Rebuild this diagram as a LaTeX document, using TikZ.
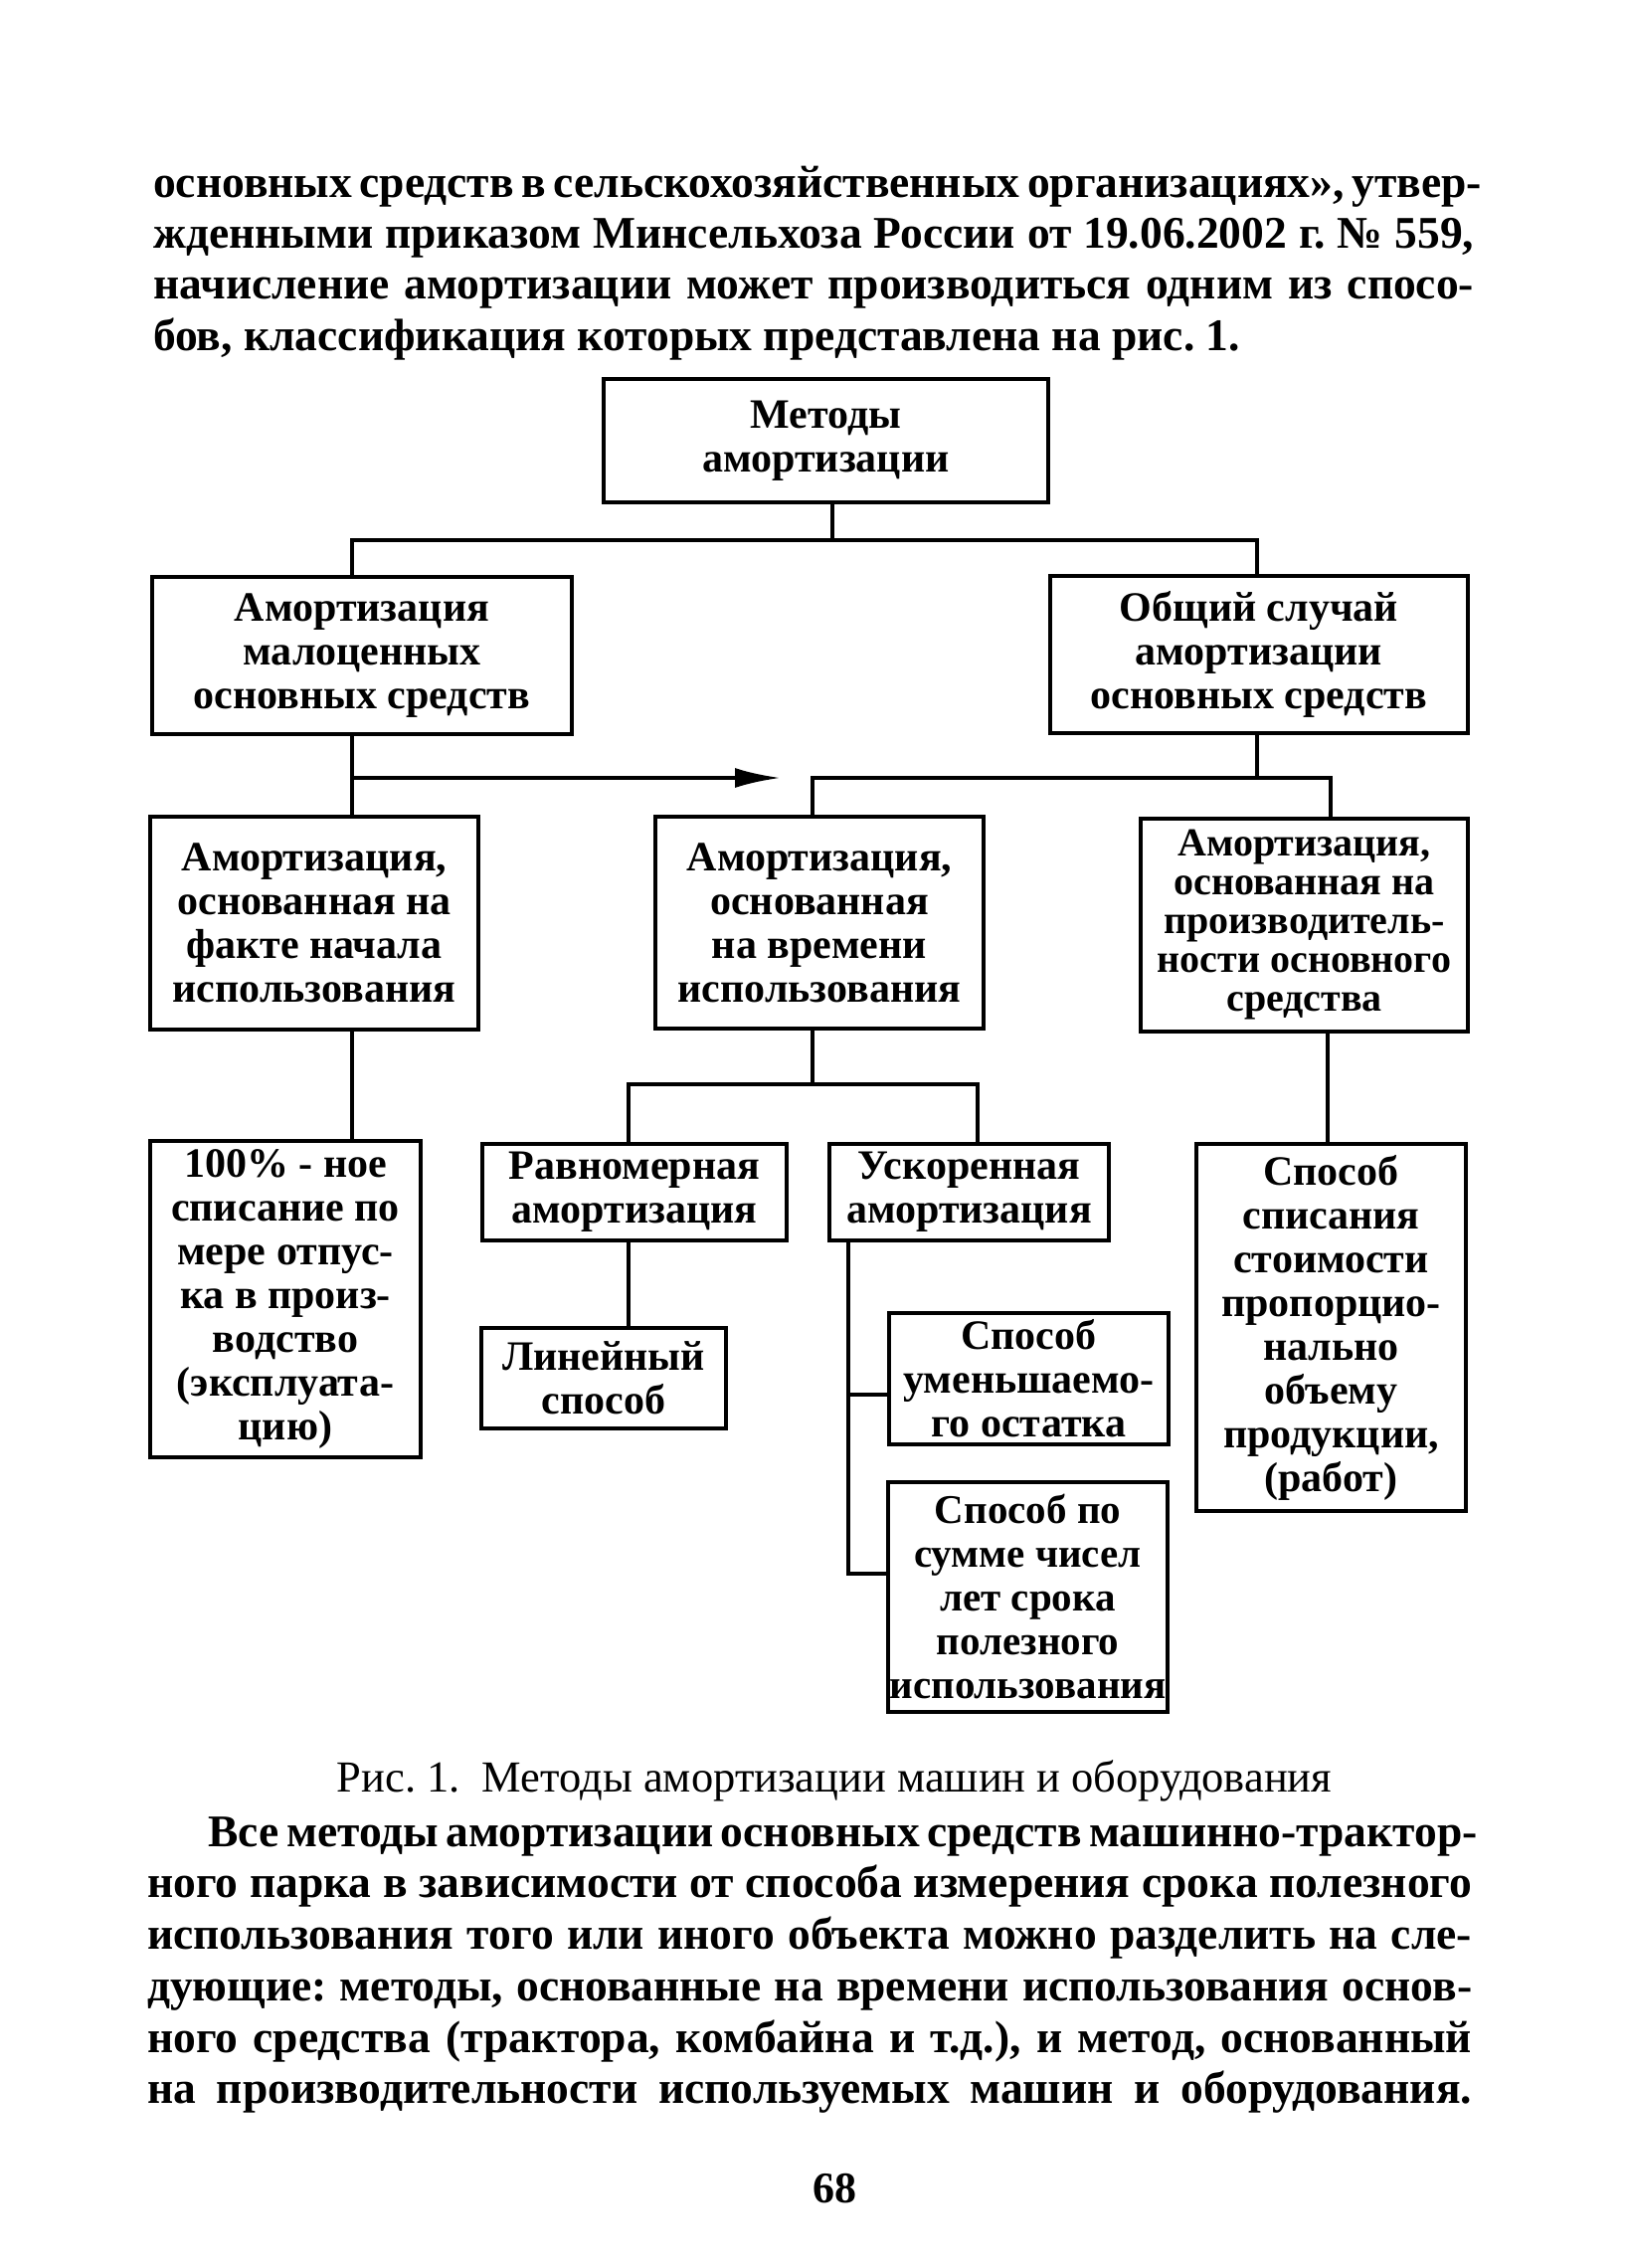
\documentclass[tikz,border=0pt]{standalone}
\usepackage{fontspec}
\setmainfont{Liberation Serif}
\usetikzlibrary{arrows.meta}
\frenchspacing
\begin{document}
\begin{tikzpicture}[x=1pt,y=-1pt]
\tikzset{
 box/.style={draw, line width=4.5pt, inner sep=0pt, align=center, font=\fontsize{42}{44}\selectfont\bfseries},
 conn/.style={line width=4pt},
 txt/.style={anchor=base west, inner sep=0pt, font=\fontsize{45.5}{51}\selectfont\bfseries},
}
\fill[white] (0,0) rectangle (1637,2280);
\useasboundingbox (0,0) rectangle (1637,2280);

% paragraph 1
\node[txt] (p1) at (154,198) {\makebox[1328pt][s]{основных средств в сельскохозяйственных организациях», утвер-}};
\node[txt] (p2) at (154,249) {\makebox[1328pt][s]{жденными приказом Минсельхоза России от 19.06.2002 г. № 559,}};
\node[txt] (p3) at (154,300) {\makebox[1328pt][s]{начисление амортизации может производиться одним из спосо-}};
\node[txt] (p4) at (154,352) {бов, классификация которых представлена на рис. 1.};

% boxes
\node[box, minimum width=447pt, minimum height=124pt] (top) at (830.5,443) {Методы\\амортизации};
\node[box, minimum width=422pt, minimum height=158pt] (L) at (364,659) {Амортизация\\малоценных\\основных средств};
\node[box, minimum width=420pt, minimum height=158pt] (R) at (1266,658) {Общий случай\\амортизации\\основных средств};
\node[box, minimum width=330pt, minimum height=214pt] (r3L) at (316,928) {Амортизация,\\основанная на\\факте начала\\использования};
\node[box, minimum width=330pt, minimum height=213pt] (r3M) at (824,927.5) {Амортизация,\\основанная\\на времени\\использования};
\node[box, minimum width=329pt, minimum height=214pt, font=\fontsize{40}{39}\selectfont\bfseries] (r3R) at (1311.5,930) {Амортизация,\\основанная на\\производитель-\\ности основного\\средства};
\node[box, minimum width=272pt, minimum height=318pt] (p100) at (287,1306) {100\% - ное\\списание по\\мере отпус-\\ка в произ-\\водство\\(эксплуата-\\цию)};
\node[box, minimum width=306pt, minimum height=97pt] (ravn) at (638,1198.5) {Равномерная\\амортизация};
\node[box, minimum width=281pt, minimum height=97pt] (usk) at (974.5,1198.5) {Ускоренная\\амортизация};
\node[box, minimum width=271pt, minimum height=369pt] (spos) at (1338.5,1334.5) {Способ\\списания\\стоимости\\пропорцио-\\нально\\объему\\продукции,\\(работ)};
\node[box, minimum width=246pt, minimum height=101pt] (lin) at (607,1385.5) {Линейный\\способ};
\node[box, minimum width=281pt, minimum height=132pt] (umen) at (1034.5,1386) {Способ\\уменьшаемо-\\го остатка};
\node[box, minimum width=281pt, minimum height=231pt, font=\fontsize{41}{44}\selectfont\bfseries] (summ) at (1033.5,1605.5) {Способ по\\сумме чисел\\лет срока\\полезного\\использования};

% connector coordinates
\coordinate (xa) at (354,0);
\coordinate (xr) at (1264,0);
\coordinate (xm) at (817,0);
\coordinate (xrr) at (1338,0);
\coordinate (xs) at (1335,0);
\coordinate (xl2) at (632,0);
\coordinate (xu2) at (983,0);
\coordinate (xk) at (853,0);
\coordinate (j1) at (837,543);
\coordinate (j2) at (1264,782);
\coordinate (j3) at (817,1090);
\coordinate (ah) at (785,782);
\coordinate (k1) at (853,1402);
\coordinate (k2) at (853,1582);

\draw[conn] (top.south -| j1) -- (j1);
\draw[conn] (L.north -| xa) |- (j1) -| (R.north -| xr);
\draw[conn] (L.south -| xa) -- (r3L.north -| xa);
\draw[conn, -{Latex[length=46pt,width=20pt]}] (xa |- ah) -- (ah);
\draw[conn] (R.south -| xr) -- (j2);
\draw[conn] (r3M.north -| xm) |- (j2) -| (r3R.north -| xrr);
\draw[conn] (r3M.south -| xm) -- (j3);
\draw[conn] (ravn.north -| xl2) |- (j3) -| (usk.north -| xu2);
\draw[conn] (r3L.south -| xa) -- (p100.north -| xa);
\draw[conn] (r3R.south -| xs) -- (spos.north -| xs);
\draw[conn] (ravn.south -| xl2) -- (lin.north -| xl2);
\draw[conn] (usk.south -| xk) -- (k2) -- (summ.west |- k2);
\draw[conn] (k1) -- (umen.west |- k1);

% caption
\node[anchor=base, inner sep=0pt, font=\fontsize{44.5}{51}\selectfont] (cap) at (839,1801) {Рис. 1.\ \ Методы амортизации машин и оборудования};

% paragraph 2
\node[txt] (q1) at (209,1856) {\makebox[1271pt][s]{Все методы амортизации основных средств машинно-трактор-}};
\node[txt] (q2) at (148,1907) {\makebox[1332pt][s]{ного парка в зависимости от способа измерения срока полезного}};
\node[txt] (q3) at (148,1959) {\makebox[1332pt][s]{использования того или иного объекта можно разделить на сле-}};
\node[txt] (q4) at (148,2011) {\makebox[1332pt][s]{дующие: методы, основанные на времени использования основ-}};
\node[txt] (q5) at (148,2063) {\makebox[1332pt][s]{ного средства (трактора, комбайна и т.д.), и метод, основанный}};
\node[txt] (q6) at (148,2114) {\makebox[1332pt][s]{на производительности используемых машин и оборудования.}};

% page number
\node[anchor=base, inner sep=0pt, font=\fontsize{44}{51}\selectfont\bfseries] (pg) at (839,2214) {68};
\end{tikzpicture}
\end{document}
